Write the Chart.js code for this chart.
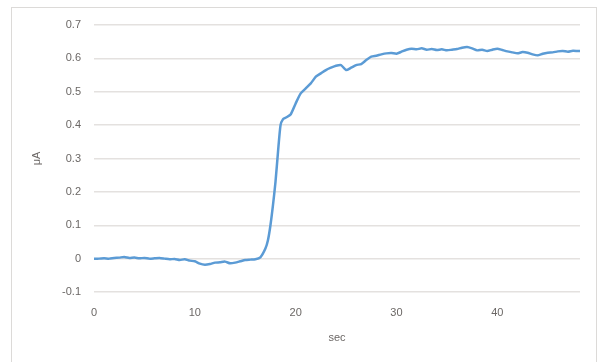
<!DOCTYPE html>
<html>
<head>
<meta charset="utf-8">
<script src="https://cdn.jsdelivr.net/npm/chart.js@4/dist/chart.umd.min.js"></script>
<style>
  html, body { margin: 0; padding: 0; background: #ffffff; }
  #wrap { position: relative; width: 606px; height: 362px; overflow: hidden; }
  #frame { position: absolute; left: 11px; top: 7px; width: 586px; height: 400px;
           border: 1px solid #dcdad8; box-sizing: border-box; }
  canvas { position: absolute; left: 0; top: 0; }
</style>
</head>
<body>
<div id="wrap">
  <div id="frame"></div>
  <canvas id="c" width="606" height="362"></canvas>
</div>
<script>
// Time in seconds
const secs = [
  0, 0.5, 1, 1.5, 2, 2.5, 3, 3.5, 4, 4.5, 5, 5.5, 6, 6.5, 7, 7.5, 8, 8.5, 9, 9.5,
  10, 10.5, 11, 11.5, 12, 12.5, 13, 13.5, 14, 14.5, 15, 15.5, 16, 16.5,
  17, 17.25, 17.5, 17.75, 18, 18.25, 18.5, 18.75, 19, 19.5,
  20, 20.5, 21, 21.5, 22, 22.5, 23, 23.5, 24, 24.5, 25, 25.5, 26, 26.5, 27, 27.5,
  28, 28.5, 29, 29.5, 30, 30.5, 31, 31.5, 32, 32.5, 33, 33.5, 34, 34.5, 35, 35.5,
  36, 36.5, 37, 37.5, 38, 38.5, 39, 39.5, 40, 40.5, 41, 41.5, 42, 42.5, 43, 43.5,
  44, 44.5, 45, 45.5, 46, 46.5, 47, 47.5, 48, 48.3
];
// Current in microamps
const microAmps = [
  0.000, 0.000, 0.001, 0.000, 0.002, 0.003, 0.005, 0.002, 0.003, 0.001, 0.002, 0.000, 0.001, 0.002, 0.000, -0.002, -0.001, -0.004, -0.002, -0.006,
  -0.008, -0.015, -0.018, -0.016, -0.012, -0.011, -0.009, -0.014, -0.012, -0.008, -0.004, -0.003, -0.002, 0.004,
  0.030, 0.055, 0.100, 0.160, 0.230, 0.320, 0.400, 0.418, 0.422, 0.432,
  0.465, 0.495, 0.510, 0.525, 0.545, 0.555, 0.565, 0.572, 0.578, 0.580, 0.565, 0.572, 0.580, 0.583, 0.595, 0.605,
  0.608, 0.612, 0.615, 0.616, 0.614, 0.620, 0.626, 0.629, 0.627, 0.630, 0.626, 0.628, 0.625, 0.627, 0.624, 0.626,
  0.628, 0.632, 0.634, 0.630, 0.624, 0.626, 0.622, 0.626, 0.629, 0.625, 0.621, 0.618, 0.615, 0.619, 0.617, 0.612,
  0.609, 0.614, 0.617, 0.618, 0.621, 0.622, 0.620, 0.623, 0.622, 0.622
];
const xTickStep = 10;
const yMin = -0.1, yMax = 0.7, yStep = 0.1;

const points = secs.map((s, i) => ({ x: s, y: microAmps[i] }));
const textColor = '#6b6765';
const gridColor = '#e4e1df';
const font = { family: 'Liberation Sans', size: 11 };

new Chart(document.getElementById('c'), {
  type: 'line',
  data: {
    datasets: [{
      data: points,
      borderColor: '#5b9bd5',
      borderWidth: 2.5,
      pointRadius: 0,
      tension: 0.2,
      fill: false
    }]
  },
  options: {
    responsive: false,
    animation: false,
    plugins: { legend: { display: false }, tooltip: { enabled: false } },
    layout: { padding: { top: 25, right: 26, bottom: 0, left: 0 } },
    scales: {
      x: {
        type: 'linear',
        min: 0,
        max: 48.2,
        grid: { display: false },
        border: { display: false },
        ticks: { stepSize: xTickStep, color: textColor, font: font, padding: 6, maxRotation: 0 },
        afterBuildTicks: (s) => { s.ticks = s.ticks.filter(t => t.value % xTickStep === 0); },
        afterFit: (s) => { s.height = 70; },
        title: { display: true, text: 'sec', color: textColor, font: font, padding: { top: 4, bottom: 17 } }
      },
      y: {
        min: yMin,
        max: yMax,
        grid: { color: gridColor, lineWidth: 1.5, drawTicks: false },
        border: { display: false },
        ticks: {
          stepSize: yStep, color: textColor, font: font, padding: 13,
          callback: (v) => (Math.round(v * 10) / 10).toString()
        },
        afterFit: (s) => { s.width = 94; },
        title: { display: true, text: 'μA', color: textColor, font: font, padding: { top: 30, bottom: 0 } }
      }
    }
  }
});
</script>
</body>
</html>
